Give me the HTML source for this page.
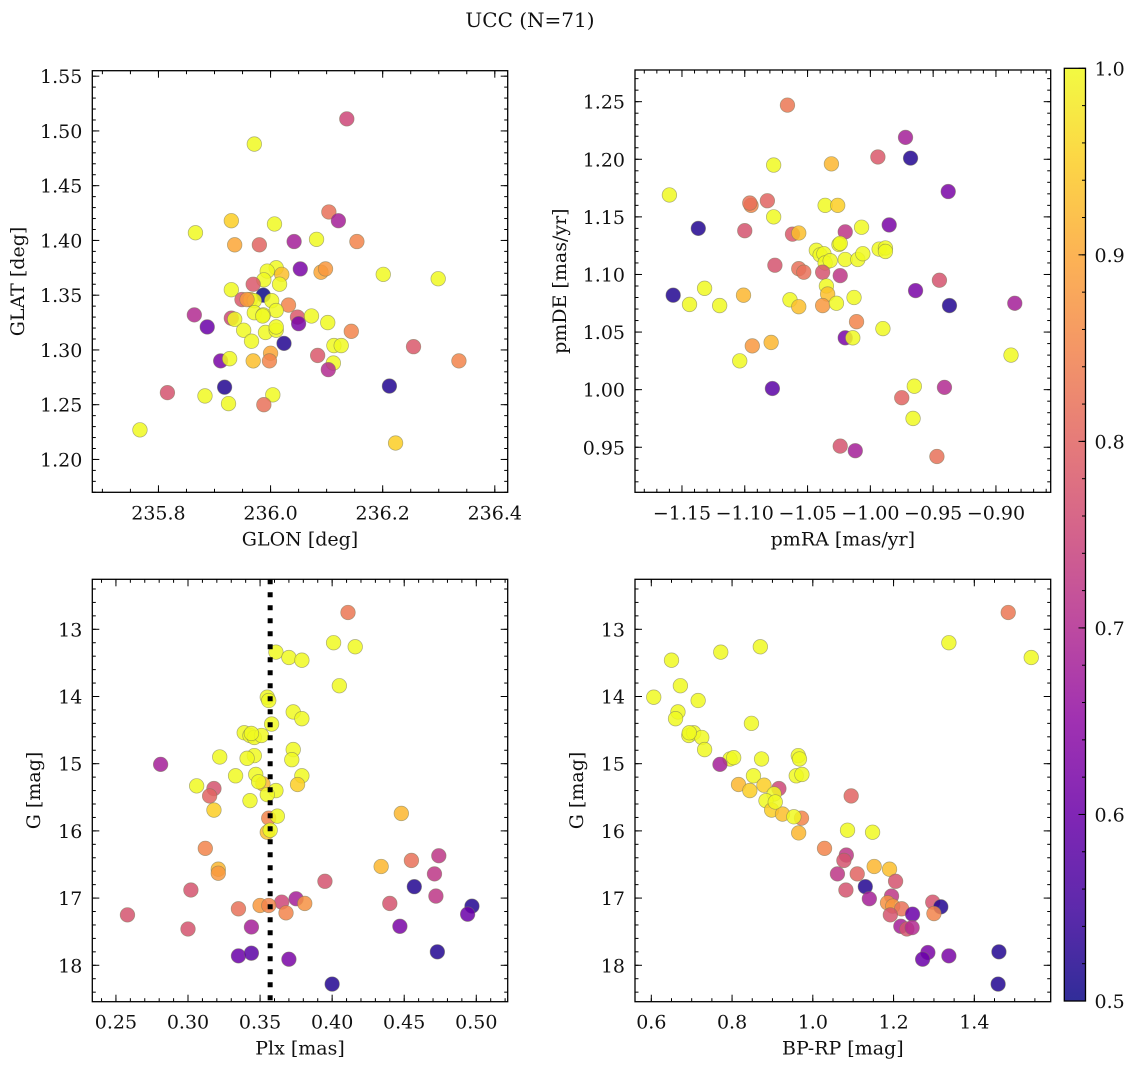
<!DOCTYPE html>
<html><head><meta charset="utf-8">
<style>
html,body{margin:0;padding:0;background:#fff;}
svg{display:block;font-family:"DejaVu Serif","Liberation Serif",serif;}
</style></head>
<body>
<svg id="fig" width="1136" height="1068" viewBox="0 0 1136 1068" xmlns="http://www.w3.org/2000/svg">
<rect width="1136" height="1068" fill="#fff"/>
<text x="530" y="27" font-size="20" text-anchor="middle" fill="#111">UCC (N=71)</text>
</svg>
<script>
// ---------- Panel 1: GLON vs GLAT ----------
const p1Lon=[236.136,235.971,236.104,236.121,235.930,236.007,235.866,235.936,235.980,236.042,236.082,236.154,236.010,235.994,236.020,236.053,236.090,236.098,236.201,236.299,235.988,235.969,236.016,235.930,235.987,235.949,235.964,235.971,236.002,236.032,236.010,235.971,235.987,235.864,235.930,235.936,236.048,236.050,236.073,236.102,235.887,235.952,235.991,236.010,236.144,235.966,236.024,236.113,236.126,236.255,236.000,235.998,235.969,235.911,235.927,236.084,236.112,236.103,236.336,235.918,236.212,235.816,235.883,236.004,235.925,235.988,235.767,236.223,235.986,235.958,236.010];
const p1Lat=[1.511,1.488,1.426,1.418,1.418,1.415,1.407,1.396,1.396,1.399,1.401,1.399,1.375,1.372,1.369,1.374,1.371,1.374,1.369,1.365,1.364,1.360,1.360,1.355,1.350,1.346,1.346,1.345,1.345,1.341,1.336,1.334,1.332,1.332,1.329,1.328,1.330,1.324,1.331,1.325,1.321,1.318,1.316,1.318,1.317,1.308,1.306,1.304,1.304,1.303,1.297,1.290,1.290,1.290,1.292,1.295,1.288,1.282,1.290,1.266,1.267,1.261,1.258,1.259,1.251,1.250,1.227,1.215,1.331,1.346,1.321];
const p1Prob=[0.75,1,0.82,0.68,0.95,1,1,0.9,0.8,0.68,1,0.85,1,1,0.93,0.62,0.9,0.88,1,1,1,0.78,1,1,0.5,0.78,0.95,1,1,0.85,1,1,1,0.7,0.75,1,0.78,0.62,1,1,0.6,1,1,1,0.85,1,0.52,1,1,0.78,0.9,0.85,0.93,0.62,1,0.78,1,0.7,0.85,0.52,0.52,0.77,1,1,1,0.82,1,0.95,1,0.88,1];
const p1XTicks=[235.8,236.0,236.2,236.4];
const p1YTicks=[1.20,1.25,1.30,1.35,1.40,1.45,1.50,1.55];
// ---------- Panel 2: pmRA vs pmDE ----------
const p2PmRA=[-1.066,-0.972,-0.968,-0.994,-1.077,-1.031,-1.160,-0.938,-1.095,-1.096,-1.082,-1.077,-1.036,-1.026,-1.137,-1.100,-0.985,-1.007,-1.020,-1.062,-1.057,-1.025,-1.024,-1.043,-1.040,-1.037,-1.036,-1.032,-1.020,-1.010,-1.006,-0.993,-0.988,-0.988,-1.076,-1.057,-1.053,-1.038,-1.024,-0.945,-1.035,-1.034,-0.964,-1.157,-1.132,-1.144,-1.120,-1.101,-1.064,-1.057,-1.038,-1.027,-1.013,-0.937,-0.885,-1.011,-0.990,-1.020,-1.014,-1.094,-1.079,-1.104,-0.888,-1.078,-0.965,-0.941,-0.975,-0.966,-1.024,-1.012,-0.947];
const p2PmDE=[1.247,1.219,1.201,1.202,1.195,1.196,1.169,1.172,1.160,1.162,1.164,1.150,1.160,1.160,1.140,1.138,1.143,1.141,1.137,1.135,1.136,1.126,1.127,1.121,1.117,1.118,1.110,1.112,1.113,1.113,1.118,1.122,1.123,1.120,1.108,1.105,1.102,1.102,1.099,1.095,1.090,1.083,1.086,1.082,1.088,1.074,1.073,1.082,1.078,1.072,1.073,1.075,1.080,1.073,1.075,1.059,1.053,1.045,1.045,1.038,1.041,1.025,1.030,1.001,1.003,1.002,0.993,0.975,0.951,0.947,0.942];
const p2Prob=[0.83,0.68,0.52,0.78,1,0.92,1,0.62,0.85,0.82,0.8,1,1,0.95,0.52,0.77,0.62,1,0.72,0.78,0.93,1,1,1,1,1,1,1,1,1,1,1,1,1,0.77,0.82,0.82,0.77,0.72,0.77,1,0.93,0.62,0.52,1,1,1,0.92,1,0.93,0.88,1,1,0.52,0.68,0.85,1,0.62,1,0.88,0.92,1,1,0.58,1,0.7,0.8,1,0.77,0.68,0.82];
const p2XTicks=[-1.15,-1.10,-1.05,-1.00,-0.95,-0.90];
const p2YTicks=[0.95,1.00,1.05,1.10,1.15,1.20,1.25];
// ---------- Panel 3: Plx vs G ----------
const p3Plx=[0.411,0.401,0.416,0.361,0.370,0.379,0.405,0.355,0.356,0.373,0.379,0.358,0.339,0.343,0.346,0.351,0.373,0.346,0.341,0.322,0.372,0.281,0.333,0.347,0.379,0.352,0.376,0.306,0.318,0.315,0.361,0.355,0.343,0.318,0.448,0.356,0.362,0.355,0.357,0.312,0.321,0.321,0.434,0.455,0.474,0.471,0.395,0.457,0.302,0.472,0.375,0.365,0.381,0.440,0.350,0.356,0.335,0.497,0.494,0.368,0.258,0.344,0.447,0.300,0.335,0.344,0.370,0.473,0.400,0.344,0.349];
const p3G=[12.75,13.20,13.26,13.34,13.42,13.46,13.84,14.01,14.06,14.23,14.33,14.41,14.54,14.58,14.61,14.58,14.79,14.88,14.92,14.90,14.94,15.01,15.18,15.16,15.18,15.30,15.31,15.33,15.37,15.48,15.40,15.46,15.55,15.69,15.74,15.81,15.78,16.02,15.99,16.26,16.57,16.63,16.53,16.44,16.37,16.64,16.75,16.83,16.88,16.97,17.01,17.06,17.08,17.08,17.11,17.11,17.16,17.12,17.24,17.22,17.25,17.43,17.42,17.46,17.86,17.82,17.91,17.80,18.28,14.55,15.27];
const p3Prob=[0.83,1,1,1,1,1,1,1,1,1,1,1,1,1,1,1,1,1,1,1,1,0.68,1,1,1,0.92,0.95,1,0.77,0.8,1,1,1,0.95,0.92,0.85,1,0.93,1,0.85,0.92,0.88,0.92,0.82,0.72,0.72,0.77,0.52,0.77,0.72,0.68,0.75,0.87,0.77,0.88,0.85,0.82,0.52,0.6,0.85,0.77,0.68,0.62,0.77,0.6,0.58,0.62,0.52,0.52,1,1];
const p3XTicks=[0.25,0.30,0.35,0.40,0.45,0.50];
const p3YTicks=[13,14,15,16,17,18];
const p3PlxLine=[0.357];
// ---------- Panel 4: BP-RP vs G ----------
const p4Color=[1.484,1.337,1.541,0.772,0.870,0.650,0.672,0.606,0.716,0.666,0.660,0.848,0.693,0.705,0.725,0.732,0.795,0.804,0.770,0.873,0.964,0.967,0.853,0.959,0.973,0.816,0.844,0.879,0.916,0.904,0.884,0.898,0.925,0.972,0.953,0.965,1.095,1.086,1.148,1.029,1.083,1.077,1.152,1.190,1.061,1.110,1.205,1.130,1.082,1.195,1.140,1.297,1.317,1.185,1.198,1.220,1.300,1.192,1.247,1.218,1.233,1.246,1.285,1.272,1.337,1.461,1.459,0.694,0.907];
const p4G=[12.75,13.20,13.42,13.34,13.26,13.46,13.84,14.01,14.06,14.23,14.33,14.40,14.58,14.54,14.61,14.79,14.93,14.91,15.01,14.93,14.88,14.93,15.18,15.18,15.16,15.31,15.40,15.32,15.37,15.45,15.55,15.69,15.75,15.81,15.79,16.03,15.48,15.99,16.02,16.26,16.36,16.44,16.53,16.57,16.64,16.64,16.75,16.83,16.88,16.97,17.01,17.06,17.13,17.07,17.12,17.16,17.23,17.25,17.24,17.42,17.46,17.44,17.81,17.91,17.86,17.80,18.28,14.54,15.57];
const p4Prob=[0.83,1,1,1,1,1,1,1,1,1,1,1,1,1,1,1,1,1,0.68,1,1,1,1,1,1,0.92,0.95,0.95,0.75,1,1,0.95,0.93,0.85,1,0.92,0.8,1,1,0.85,0.72,0.77,0.92,0.93,0.72,0.8,0.77,0.52,0.77,0.72,0.68,0.77,0.52,0.87,0.88,0.82,0.85,0.77,0.6,0.68,0.77,0.7,0.62,0.6,0.62,0.52,0.52,1,1];
const p4XTicks=[0.6,0.8,1.0,1.2,1.4];
const p4YTicks=[13,14,15,16,17,18];
// ---------- Colorbar ----------
const cbTicks=[0.5,0.6,0.7,0.8,0.9,1.0];

const NS="http://www.w3.org/2000/svg";
const svg=document.getElementById('fig');
function mk(tag,attrs,parent){const e=document.createElementNS(NS,tag);for(const k in attrs)e.setAttribute(k,attrs[k]);(parent||svg).appendChild(e);return e;}
const stops=[[13,8,135],[65,4,157],[106,0,168],[143,13,164],[177,42,144],[204,71,120],[225,100,98],[242,132,75],[252,166,54],[252,206,37],[240,249,33]];
function plasma(t){t=Math.max(0,Math.min(1,t))*10;const i=Math.min(9,Math.floor(t)),f=t-i;const a=stops[i],b=stops[i+1];return 'rgb('+[0,1,2].map(k=>Math.round(a[k]+(b[k]-a[k])*f)).join(',')+')';}
function cmap(p){return plasma((p-0.5)/0.5);}
function fmt(v,d){let s=v.toFixed(d);return s.replace('-','\u2212');}
const FS=19;

function panel(o){
  const g=mk('g',{});
  
  
  const sx=v=>o.L+(v-o.x0)/(o.x1-o.x0)*(o.R-o.L);
  const sy=v=>o.yInv? o.T+(v-o.y0)/(o.y1-o.y0)*(o.B-o.T) : o.B-(v-o.y0)/(o.y1-o.y0)*(o.B-o.T);
  const tg=mk('g',{stroke:'#000','stroke-width':1},g);
  
  
  const eps=1e-9;
  for(let v=Math.ceil(o.x0/o.xm-eps)*o.xm;v<=o.x1+eps;v+=o.xm){const x=sx(v);mk('line',{x1:x,x2:x,y1:o.B,y2:o.B-3.5},tg);mk('line',{x1:x,x2:x,y1:o.T,y2:o.T+3.5},tg);}
  const ylo=Math.min(o.y0,o.y1),yhi=Math.max(o.y0,o.y1);
  for(let v=Math.ceil(ylo/o.ym-eps)*o.ym;v<=yhi+eps;v+=o.ym){const y=sy(v);mk('line',{x1:o.L,x2:o.L+3.5,y1:y,y2:y},tg);mk('line',{x1:o.R,x2:o.R-3.5,y1:y,y2:y},tg);}
  o.xt.forEach(v=>{const x=sx(v);mk('line',{x1:x,x2:x,y1:o.B,y2:o.B-7},tg);mk('line',{x1:x,x2:x,y1:o.T,y2:o.T+7},tg);
    const t=mk('text',{x:x,y:o.B+27,'font-size':FS,'text-anchor':'middle',fill:'#111'},g);t.textContent=fmt(v,o.xd);
    });
  o.yt.forEach(v=>{const y=sy(v);mk('line',{x1:o.L,x2:o.L+7,y1:y,y2:y},tg);mk('line',{x1:o.R,x2:o.R-7,y1:y,y2:y},tg);
    const t=mk('text',{x:o.L-10,y:y+7,'font-size':FS,'text-anchor':'end',fill:'#111'},g);t.textContent=fmt(v,o.yd);
    });
  const pg=mk('g',{},g);
  
  
  o.xs.forEach((xv,i)=>{
    const c=mk('circle',{cx:sx(xv),cy:sy(o.ys[i]),r:7.3,fill:cmap(o.ps[i]),'fill-opacity':0.85,stroke:'#7a7a5a','stroke-opacity':0.6,'stroke-width':0.7},pg);
    
    
  });
  if(o.vline){o.vline.forEach(v=>{const l=mk('line',{x1:sx(v),x2:sx(v),y1:o.T,y2:o.B,stroke:'#000','stroke-width':5,'stroke-dasharray':'5,8'},g);
    });}
  const fr=mk('rect',{x:o.L,y:o.T,width:o.R-o.L,height:o.B-o.T,fill:'none',stroke:'#000','stroke-width':1.3},g);
  
  const xl=mk('text',{x:(o.L+o.R)/2,y:o.B+53,'font-size':FS,'text-anchor':'middle',fill:'#111'},g);xl.textContent=o.xlab;
  
  const yx=o.ylx, yy=(o.T+o.B)/2;
  const yl=mk('text',{x:yx,y:yy,'font-size':FS,'text-anchor':'middle',fill:'#111',transform:'rotate(-90 '+yx+' '+yy+')'},g);yl.textContent=o.ylab;
  
}

panel({name:'glon-glat-panel',L:92.3,R:507.7,T:70.7,B:492.3,x0:235.682,x1:236.423,y0:1.170,y1:1.555,xm:0.05,ym:0.01,xt:p1XTicks,yt:p1YTicks,xd:1,yd:2,xs:p1Lon,ys:p1Lat,ps:p1Prob,xlab:'GLON [deg]',ylab:'GLAT [deg]',ylx:24});
panel({name:'pm-panel',L:635,R:1050.7,T:70,B:492.3,x0:-1.1874,x1:-0.8564,y0:0.9109,y1:1.2775,xm:0.01,ym:0.01,xt:p2XTicks,yt:p2YTicks,xd:2,yd:2,xs:p2PmRA,ys:p2PmDE,ps:p2Prob,xlab:'pmRA [mas/yr]',ylab:'pmDE [mas/yr]',ylx:566});
panel({name:'plx-g-panel',L:92.3,R:507.7,T:579.3,B:1001.7,x0:0.2336,x1:0.5218,y0:12.256,y1:18.542,yInv:true,xm:0.01,ym:0.2,xt:p3XTicks,yt:p3YTicks,xd:2,yd:0,xs:p3Plx,ys:p3G,ps:p3Prob,xlab:'Plx [mas]',ylab:'G [mag]',ylx:40,vline:p3PlxLine});
panel({name:'cmd-panel',L:635,R:1050.7,T:579.3,B:1001.7,x0:0.5596,x1:1.5892,y0:12.256,y1:18.542,yInv:true,xm:0.05,ym:0.2,xt:p4XTicks,yt:p4YTicks,xd:1,yd:0,xs:p4Color,ys:p4G,ps:p4Prob,xlab:'BP-RP [mag]',ylab:'G [mag]',ylx:583});

// colorbar
(function(){
  const L=1064.3,R=1085.5,T=68.3,B=1001;
  const g=mk('g',{});
  
  
  const defs=mk('defs',{},g);
  const lg=mk('linearGradient',{id:'cbg',x1:0,y1:1,x2:0,y2:0},defs);
  for(let i=0;i<=10;i++){mk('stop',{offset:i/10,'stop-color':plasma(i/10)},lg);}
  mk('rect',{x:L,y:T,width:R-L,height:B-T,fill:'url(#cbg)','fill-opacity':0.85},g);
  const sy=v=>B-(v-0.5)/0.5*(B-T);
  for(let v=0.5;v<=1.0001;v+=0.02){const y=sy(v);mk('line',{x1:R,x2:R-3.5,y1:y,y2:y,stroke:'#000','stroke-width':1},g);}
  cbTicks.forEach(v=>{const y=sy(v);mk('line',{x1:R,x2:R-7,y1:y,y2:y,stroke:'#000','stroke-width':1},g);
    const t=mk('text',{x:R+9,y:y+7,'font-size':FS,fill:'#111'},g);t.textContent=v.toFixed(1);
    });
  mk('rect',{x:L,y:T,width:R-L,height:B-T,fill:'none',stroke:'#000','stroke-width':1.3},g);
})();
</script>
</body></html>
